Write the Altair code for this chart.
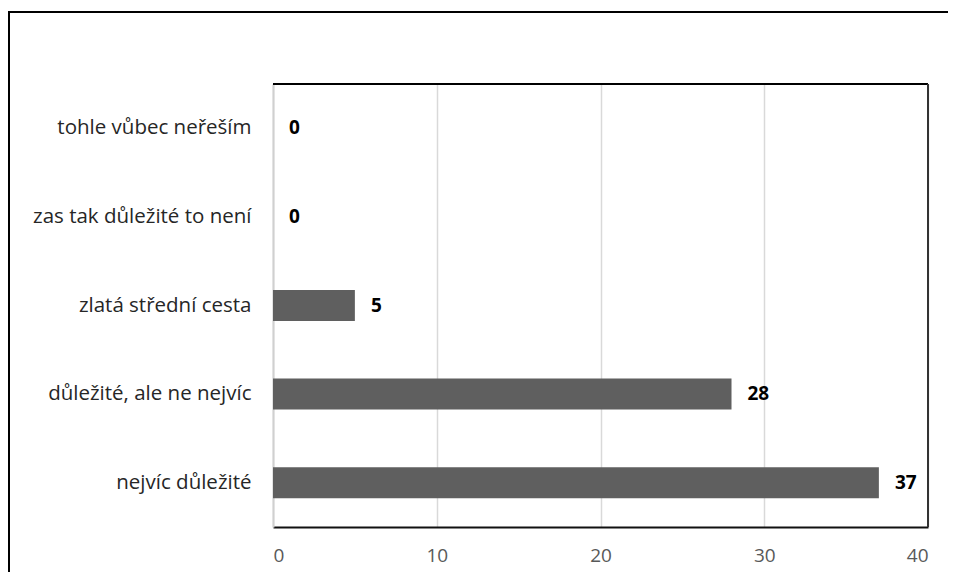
import altair as alt
import pandas as pd

categories = ["tohle vůbec neřeším", "zas tak důležité to není", "zlatá střední cesta",
              "důležité, ale ne nejvíc", "nejvíc důležité"]
values = [0, 0, 5, 28, 37]
x_ticks = [0, 10, 20, 30, 40]

df = pd.DataFrame({"cat": categories, "val": values})

W, H = 655, 443
FONT = "Open Sans"

y_enc = alt.Y("cat:N", sort=categories, title=None,
              scale=alt.Scale(paddingInner=0.65, paddingOuter=0.325),
              axis=alt.Axis(labelFont=FONT, labelFontSize=20.5, labelColor="#262626",
                            labelPadding=22, ticks=False, domainColor="#d0d0d0",
                            domainWidth=2, labelLimit=400))
x_enc = alt.X("val:Q", title=None,
              scale=alt.Scale(domain=[0, 40], nice=False),
              axis=alt.Axis(values=x_ticks, labelFont=FONT, labelFontSize=19,
                            labelColor="#595959", labelPadding=19, ticks=False,
                            domainColor="#111111", domainWidth=2,
                            gridColor="#d9d9d9", gridWidth=1.5))

base = alt.Chart(df)
bars = base.mark_bar(color="#5f5f5f").encode(x=x_enc, y=y_enc)
labels = base.mark_text(align="left", dx=16, font=FONT, fontSize=19,
                        fontWeight="bold", color="#000000").encode(
    x="val:Q", y=alt.Y("cat:N", sort=categories), text="val:Q")

frame_df = pd.DataFrame({"k": [0]})
top_rule = alt.Chart(frame_df).mark_rule(color="#000000", strokeWidth=2).encode(
    x=alt.value(0), x2=alt.value(W), y=alt.value(0))
right_rule = alt.Chart(frame_df).mark_rule(color="#333333", strokeWidth=2).encode(
    x=alt.value(W), y=alt.value(0), y2=alt.value(H))
outer_top = alt.Chart(frame_df).mark_rule(color="#000000", strokeWidth=2).encode(
    x=alt.value(-265), x2=alt.value(W + 20), y=alt.value(-72))
outer_left = alt.Chart(frame_df).mark_rule(color="#000000", strokeWidth=2).encode(
    x=alt.value(-264), y=alt.value(-73), y2=alt.value(H + 45))

chart = alt.layer(outer_top, outer_left, bars, labels, top_rule, right_rule).properties(
    width=W, height=H,
    autosize=alt.AutoSizeParams(type="none"),
    padding={"left": 265, "top": 76, "right": 21, "bottom": 45},
    background="#ffffff",
).configure_view(stroke=None)

chart.save("out.html", embed_options={"renderer": "svg", "actions": False})
